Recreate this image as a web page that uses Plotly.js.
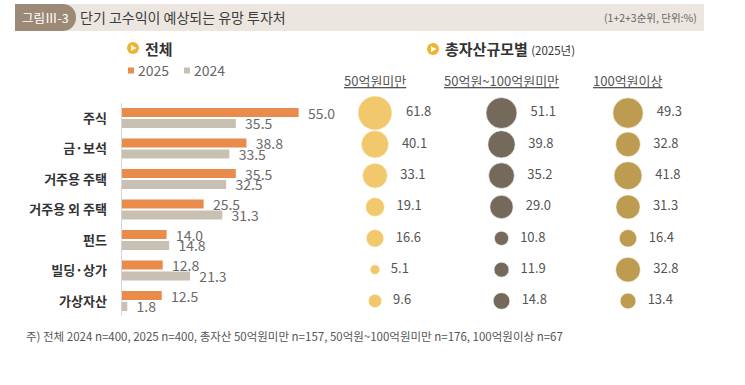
<!DOCTYPE html>
<html><head><meta charset="utf-8">
<script src="https://cdn.plot.ly/plotly-3.0.1.min.js"></script>
<style>html,body{margin:0;padding:0;background:#fff}</style>
</head><body><div id="chart" style="width:745px;height:385px"></div>
<script>
// ---- data ----
const categories = ['주식', '금·보석', '거주용 주택', '거주용 외 주택', '펀드', '빌딩·상가', '가상자산'];
const seriesNames = ['2025', '2024'];
const total2025 = [55.0, 38.8, 35.5, 25.5, 14.0, 12.8, 12.5];
const total2024 = [35.5, 33.5, 32.5, 31.3, 14.8, 21.3, 1.8];
const sizeGroups = ['50억원미만', '50억원~100억원미만', '100억원이상'];
const under50 = [61.8, 40.1, 33.1, 19.1, 16.6, 5.1, 9.6];
const from50to100 = [51.1, 39.8, 35.2, 29.0, 10.8, 11.9, 14.8];
const over100 = [49.3, 32.8, 41.8, 31.3, 16.4, 32.8, 13.4];

// ---- helpers ----
const W = 745, H = 385;
const px = x => x / W;
const py = y => 1 - y / H;
const FONT = '"Noto Sans CJK KR", "Noto Sans", sans-serif';
const NB = '\u00a0';
const fmt = (v, pad) => NB.repeat(pad) + v.toFixed(1);

const barColors = ['#e88b4b', '#c9c0b4'];
const bubbleColors = ['#f2c86c', '#75695b', '#bd9c52'];

const traces = [];
[total2025, total2024].forEach((vals, i) => {
  traces.push({
    type: 'bar', orientation: 'h', name: seriesNames[i],
    x: vals, y: categories,
    marker: {color: barColors[i]},
    text: vals.map(v => fmt(v, 2)),
    textposition: 'outside', constraintext: 'none', cliponaxis: false,
    textfont: {family: FONT, size: 14, color: '#6a6a6a'},
    hoverinfo: 'skip', showlegend: false
  });
});

[under50, from50to100, over100].forEach((vals, i) => {
  traces.push({
    type: 'scatter', mode: 'markers+text', xaxis: 'x2', yaxis: 'y2',
    x: categories.map(() => sizeGroups[i]), y: categories,
    marker: {size: vals, sizemode: 'area', sizeref: 0.1066, color: bubbleColors[i], opacity: 1,
             line: {width: 1, color: 'rgba(255,255,255,0.6)'}},
    text: vals.map(v => fmt(v, 3)),
    textposition: 'middle right', cliponaxis: false,
    textfont: {family: FONT, size: 13, color: '#555'},
    hoverinfo: 'skip', showlegend: false
  });
});

function ann(text, x, y, o) {
  return Object.assign({text: text, x: px(x), y: py(y), xref: 'paper', yref: 'paper',
    xanchor: 'left', yanchor: 'middle', showarrow: false,
    font: {family: FONT, size: 13, color: '#555'}}, o || {});
}

const annotations = [
  ann('그림Ⅲ-3', 45, 17.5, {xanchor: 'center', font: {family: FONT, size: 12.5, color: '#fff'}}),
  ann('단기 고수익이 예상되는 유망 투자처', 78, 17.5, {font: {family: FONT, size: 14, color: '#3c3c3c'}}),
  ann('(1+2+3순위, 단위:%)', 699, 17.5, {xanchor: 'right', font: {family: FONT, size: 10.5, color: '#666'}}),
  ann('<b>전체</b>', 143, 48, {font: {family: FONT, size: 15, color: '#333'}}),
  ann(seriesNames[0], 136, 70, {font: {family: FONT, size: 14, color: '#666'}}),
  ann(seriesNames[1], 192, 70, {font: {family: FONT, size: 14, color: '#666'}}),
  ann('<b>총자산규모별</b> <span style="font-size:11.5px;font-weight:normal">(2025년)</span>', 443, 49,
      {font: {family: FONT, size: 15, color: '#333'}}),
  ann('주) 전체 2024 n=400, 2025 n=400, 총자산 50억원미만 n=157, 50억원~100억원미만 n=176, 100억원이상 n=67',
      24, 336, {font: {family: FONT, size: 11.5, color: '#555'}})
];
sizeGroups.forEach(g => {
  annotations.push({text: '<u>' + g + '</u>', x: g, xref: 'x2', y: py(81), yref: 'paper',
    xanchor: 'center', yanchor: 'middle', showarrow: false,
    font: {family: FONT, size: 13, color: '#555'}});
});

const shapes = [
  {type: 'rect', xref: 'paper', yref: 'paper', x0: px(15), x1: px(704), y0: py(31), y1: py(4),
   fillcolor: '#ebe6e0', line: {width: 0}, layer: 'below'},
  {type: 'path', xref: 'paper', yref: 'paper', layer: 'below',
   path: `M ${px(15)},${py(4)} L ${px(62)},${py(4)} C ${px(71)},${py(4)} ${px(76)},${py(10)} ${px(76)},${py(17.5)} ` +
         `C ${px(76)},${py(25)} ${px(71)},${py(31)} ${px(62)},${py(31)} L ${px(15)},${py(31)} Z`,
   fillcolor: '#9c8a77', line: {width: 0}},
  // section icons
  {type: 'circle', xref: 'paper', yref: 'paper', x0: px(127), x1: px(139), y0: py(54), y1: py(42),
   fillcolor: '#f1b22c', line: {width: 0}},
  {type: 'path', xref: 'paper', yref: 'paper', path: `M ${px(131)},${py(45)} L ${px(136.5)},${py(48)} L ${px(131)},${py(51)} Z`,
   fillcolor: '#fff', line: {width: 0}},
  {type: 'circle', xref: 'paper', yref: 'paper', x0: px(427), x1: px(439), y0: py(55), y1: py(43),
   fillcolor: '#f1b22c', line: {width: 0}},
  {type: 'path', xref: 'paper', yref: 'paper', path: `M ${px(431)},${py(46)} L ${px(436.5)},${py(49)} L ${px(431)},${py(52)} Z`,
   fillcolor: '#fff', line: {width: 0}},
  // legend swatches
  {type: 'rect', xref: 'paper', yref: 'paper', x0: px(128), x1: px(134), y0: py(73.5), y1: py(67.5),
   fillcolor: barColors[0], line: {width: 0}},
  {type: 'rect', xref: 'paper', yref: 'paper', x0: px(184), x1: px(190), y0: py(73.5), y1: py(67.5),
   fillcolor: barColors[1], line: {width: 0}}
];

const layout = {
  width: W, height: H, margin: {l: 0, r: 0, t: 0, b: 0},
  paper_bgcolor: '#fff', plot_bgcolor: 'rgba(0,0,0,0)',
  font: {family: FONT},
  barmode: 'group', bargap: 0.28, bargroupgap: 0.18,
  xaxis: {domain: [px(121.5), px(121.5 + 193.2)], range: [0, 60], visible: false, fixedrange: true},
  yaxis: {domain: [py(316.25), py(102.75)], type: 'category', categoryarray: categories, categoryorder: 'array',
          range: [6.5, -0.5], showline: true, linecolor: '#d6d6d6', linewidth: 1, showgrid: false,
          ticks: '', ticklabelstandoff: 11, zeroline: false,
          tickfont: {family: FONT, size: 13, color: '#333', weight: 'bold'}},
  xaxis2: {domain: [px(311.75), px(691.25)], type: 'category', categoryarray: sizeGroups, range: [-0.5, 2.5],
           anchor: 'y2', visible: false},
  yaxis2: {domain: [py(316.67), py(97.33)], type: 'category', categoryarray: categories, range: [6.5, -0.5],
           anchor: 'x2', visible: false},
  annotations: annotations, shapes: shapes
};

Plotly.newPlot('chart', traces, layout, {staticPlot: true, displayModeBar: false});
</script></body></html>
